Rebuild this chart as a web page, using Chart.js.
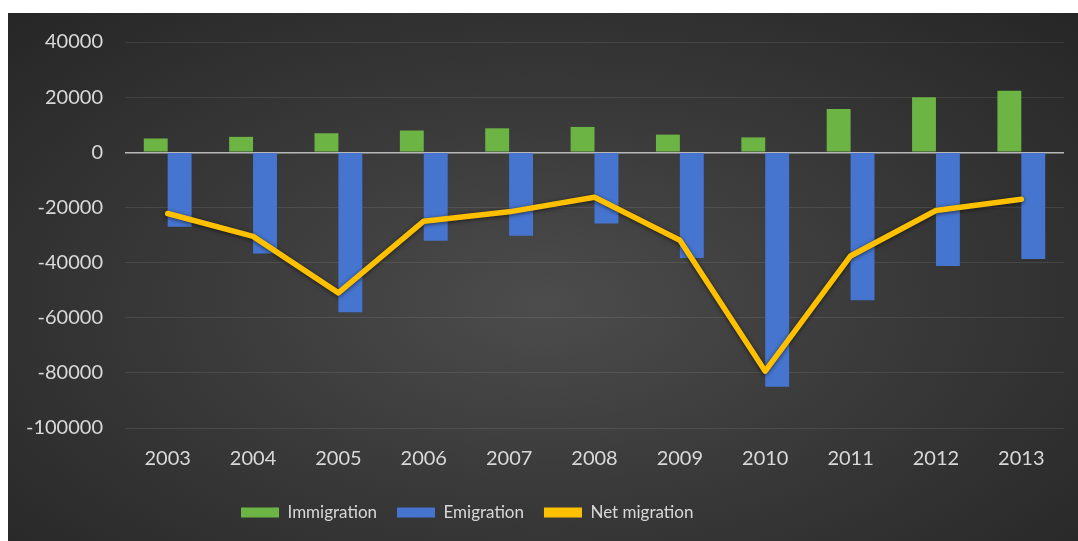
<!DOCTYPE html>
<html>
<head>
<meta charset="utf-8">
<script src="https://cdn.jsdelivr.net/npm/chart.js@4"></script>
<style>
  body { margin: 0; background: #fff; }
  #wrap {
    position: absolute; left: 8px; top: 13px; width: 1070px; height: 528px;
    background: radial-gradient(ellipse at 50% 55%, #4c4c4c 0%, #3a3a3a 45%, #262626 100%);
  }
</style>
</head>
<body>
<div id="wrap"><canvas id="migrationChart"></canvas></div>
<script>
// Data
const years = ['2003', '2004', '2005', '2006', '2007', '2008', '2009', '2010', '2011', '2012', '2013'];
const immigration = [5000, 5600, 6900, 7900, 8700, 9200, 6400, 5400, 15700, 20000, 22300];
const emigration = [-27000, -36700, -58000, -32100, -30300, -25800, -38300, -85000, -53700, -41200, -38700];
const netMigration = [-22200, -30500, -51000, -25000, -21600, -16300, -31900, -79400, -37600, -21100, -17000];

const tickColor = '#d9d9d9';
const font = { family: 'Lato', size: 20 };

// soft shadow under the net migration line
const lineShadow = {
  id: 'lineShadow',
  beforeDatasetDraw(chart, args) {
    if (args.index !== 2) return;
    const ctx = chart.ctx;
    ctx.save();
    ctx.shadowColor = 'rgba(0,0,0,0.6)';
    ctx.shadowBlur = 4;
    ctx.shadowOffsetY = 1;
  },
  afterDatasetDraw(chart, args) {
    if (args.index !== 2) return;
    chart.ctx.restore();
  }
};

// the legend sits left of centre in the original
const legendShift = {
  id: 'legendShift',
  afterLayout(chart) {
    chart.legend.left = 213;
  }
};

const ctx = document.getElementById('migrationChart').getContext('2d');
new Chart(ctx, {
  type: 'bar',
  data: {
    labels: years,
    datasets: [
      {
        label: 'Immigration',
        data: immigration,
        backgroundColor: '#6cb443',
        order: 1
      },
      {
        label: 'Emigration',
        data: emigration,
        backgroundColor: '#4675cf',
        order: 1
      },
      {
        type: 'line',
        label: 'Net migration',
        data: netMigration,
        borderColor: '#ffc000',
        backgroundColor: '#ffc000',
        borderWidth: 5.5,
        pointRadius: 0,
        tension: 0,
        borderJoinStyle: 'round',
        borderCapStyle: 'round',
        order: 0
      }
    ]
  },
  options: {
    responsive: true,
    maintainAspectRatio: false,
    animation: false,
    categoryPercentage: 0.56,
    barPercentage: 1.0,
    layout: { padding: { top: 29, right: 14, bottom: 10, left: 0 } },
    plugins: {
      tooltip: { enabled: false },
      legend: {
        position: 'bottom',
        align: 'start',
        labels: {
          color: tickColor,
          font: { family: 'Lato', size: 17 },
          boxWidth: 38,
          boxHeight: 10,
          padding: 20,
          sort: (a, b) => a.datasetIndex - b.datasetIndex,
          generateLabels(chart) {
            const items = Chart.defaults.plugins.legend.labels.generateLabels(chart);
            items.forEach(it => { it.lineWidth = 0; });
            return items;
          }
        }
      }
    },
    scales: {
      x: {
        grid: { display: false },
        border: { display: false },
        ticks: { color: tickColor, font: font, padding: 11 },
        afterFit(scale) { scale.height = 56; }
      },
      y: {
        min: -100000,
        max: 40000,
        border: { display: false },
        grid: {
          drawTicks: false,
          color: c => c.tick.value === 0 ? '#b8b8b8' : 'rgba(255,255,255,0.09)',
          lineWidth: c => c.tick.value === 0 ? 1.5 : 1
        },
        ticks: { stepSize: 20000, color: tickColor, font: font, padding: 22, callback: v => String(v) },
        afterFit(scale) {
          scale.width = 117;
          scale.paddingTop = 0;
          scale.paddingBottom = 0;
        }
      }
    }
  },
  plugins: [lineShadow, legendShift]
});
</script>
</body>
</html>
